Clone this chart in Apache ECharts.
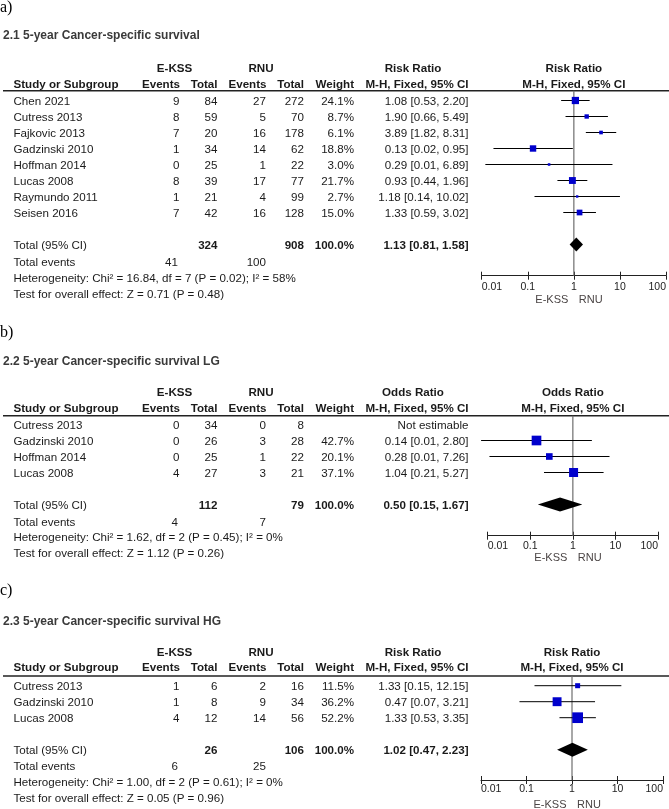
<!DOCTYPE html>
<html>
<head>
<meta charset="utf-8">
<script src="https://cdn.jsdelivr.net/npm/echarts@6/dist/echarts.min.js"></script>
<style>
html, body { margin: 0; padding: 0; background: #fff; }
#chart { width: 669px; height: 809px; }
</style>
</head>
<body>
<div id="chart"></div>
<script>
// ---- a) 2.1 5-year Cancer-specific survival (Risk Ratio)
var studiesA = ['Chen 2021', 'Cutress 2013', 'Fajkovic 2013', 'Gadzinski 2010', 'Hoffman 2014', 'Lucas 2008', 'Raymundo 2011', 'Seisen 2016'];
var ekssEventsA = [9, 8, 7, 1, 0, 8, 1, 7];
var ekssTotalA = [84, 59, 20, 34, 25, 39, 21, 42];
var rnuEventsA = [27, 5, 16, 14, 1, 17, 4, 16];
var rnuTotalA = [272, 70, 178, 62, 22, 77, 99, 128];
var weightA = [24.1, 8.7, 6.1, 18.8, 3.0, 21.7, 2.7, 15.0];
var estA = [1.08, 1.90, 3.89, 0.13, 0.29, 0.93, 1.18, 1.33];
var lowA = [0.53, 0.66, 1.82, 0.018, 0.012, 0.44, 0.14, 0.59];
var highA = [2.20, 5.49, 8.31, 0.95, 6.89, 1.96, 10.02, 3.02];
var totalA = [1.13, 0.81, 1.58];
var hetA = 'Heterogeneity: Chi² = 16.84, df = 7 (P = 0.02); I² = 58%';
var testA = 'Test for overall effect: Z = 0.71 (P = 0.48)';

// ---- b) 2.2 5-year Cancer-specific survival LG (Odds Ratio)
var studiesB = ['Cutress 2013', 'Gadzinski 2010', 'Hoffman 2014', 'Lucas 2008'];
var ekssEventsB = [0, 0, 0, 4];
var ekssTotalB = [34, 26, 25, 27];
var rnuEventsB = [0, 3, 1, 3];
var rnuTotalB = [8, 28, 22, 21];
var weightB = [null, 42.7, 20.1, 37.1];
var estB = [null, 0.14, 0.28, 1.04];
var lowB = [null, 0.007, 0.011, 0.21];
var highB = [null, 2.80, 7.26, 5.27];
var totalB = [0.50, 0.15, 1.67];
var hetB = 'Heterogeneity: Chi² = 1.62, df = 2 (P = 0.45); I² = 0%';
var testB = 'Test for overall effect: Z = 1.12 (P = 0.26)';

// ---- c) 2.3 5-year Cancer-specific survival HG (Risk Ratio)
var studiesC = ['Cutress 2013', 'Gadzinski 2010', 'Lucas 2008'];
var ekssEventsC = [1, 1, 4];
var ekssTotalC = [6, 8, 12];
var rnuEventsC = [2, 9, 14];
var rnuTotalC = [16, 34, 56];
var weightC = [11.5, 36.2, 52.2];
var estC = [1.33, 0.47, 1.33];
var lowC = [0.15, 0.07, 0.53];
var highC = [12.15, 3.21, 3.35];
var totalC = [1.02, 0.47, 2.23];
var hetC = 'Heterogeneity: Chi² = 1.00, df = 2 (P = 0.61); I² = 0%';
var testC = 'Test for overall effect: Z = 0.05 (P = 0.96)';

var tickLabels = ['0.01', '0.1', '1', '10', '100'];

var FONT = '"Liberation Sans", Arial, Helvetica, sans-serif';
var FS = 11.6;
var ROW = 16;

// layout of each panel (pixel positions)
var panels = [
	{tag: 'a)', title: '2.1 5-year Cancer-specific survival', measure: 'Risk Ratio',
	 tagY: 8, titleY: 36, h1Y: 69, h2Y: 85, lineY: 90.7, row0: 100.5, axisY: 275.7, totalIdx: 9,
	 eventsY: 263, hetY: 278.5, testY: 295, sideY: 300, left: 481.7, right: 666, labMargin: 6,
	 studies: studiesA, eEv: ekssEventsA, eTot: ekssTotalA, rEv: rnuEventsA, rTot: rnuTotalA,
	 w: weightA, est: estA, lo: lowA, hi: highA, tot: totalA, het: hetA, test: testA},
	{tag: 'b)', title: '2.2 5-year Cancer-specific survival LG', measure: 'Odds Ratio',
	 tagY: 333, titleY: 361.7, h1Y: 392.7, h2Y: 408.3, lineY: 415.7, row0: 424.5, axisY: 535.7, totalIdx: 5,
	 eventsY: 522.7, hetY: 537.7, testY: 553.3, sideY: 558, left: 487.7, right: 658, labMargin: 5,
	 studies: studiesB, eEv: ekssEventsB, eTot: ekssTotalB, rEv: rnuEventsB, rTot: rnuTotalB,
	 w: weightB, est: estB, lo: lowB, hi: highB, tot: totalB, het: hetB, test: testB},
	{tag: 'c)', title: '2.3 5-year Cancer-specific survival HG', measure: 'Risk Ratio',
	 tagY: 591, titleY: 622, h1Y: 653, h2Y: 668, lineY: 676, row0: 685.7, axisY: 780, totalIdx: 4,
	 eventsY: 767, hetY: 783, testY: 798.5, sideY: 805, left: 481, right: 663, labMargin: 4,
	 studies: studiesC, eEv: ekssEventsC, eTot: ekssTotalC, rEv: rnuEventsC, rTot: rnuTotalC,
	 w: weightC, est: estC, lo: lowC, hi: highC, tot: totalC, het: hetC, test: testC}
];

function txt(x, y, s, align, bold, size, color, family) {
	return {
		type: 'text', x: x, y: y, silent: true,
		style: {
			text: s,
			font: (bold ? 'bold ' : '') + (size || FS) + 'px ' + (family || FONT),
			fill: color || '#1a1a1a',
			textAlign: align || 'left', align: align || 'left',
			textVerticalAlign: 'middle', verticalAlign: 'middle'
		}
	};
}

function ci(e, l, h) {
	return e.toFixed(2) + ' [' + l.toFixed(2) + ', ' + h.toFixed(2) + ']';
}

function sum(arr) {
	return arr.reduce(function (a, b) { return a + b; }, 0);
}

var graphics = [];
var grids = [], xAxes = [], yAxes = [], series = [];

panels.forEach(function (P, p) {
	var xOne = P.left + (P.right - P.left) / 2;
	var g = graphics;
	g.push(txt(0, P.tagY, P.tag, 'left', false, 16, '#000', '"Liberation Serif", "Times New Roman", serif'));
	g.push(txt(3, P.titleY, P.title, 'left', true, 12, '#3a3a3a'));
	// headers
	g.push(txt(174.5, P.h1Y, 'E-KSS', 'center', true));
	g.push(txt(261, P.h1Y, 'RNU', 'center', true));
	g.push(txt(413, P.h1Y, P.measure, 'center', true));
	g.push(txt(xOne, P.h1Y, P.measure, 'center', true));
	g.push(txt(13.5, P.h2Y, 'Study or Subgroup', 'left', true));
	g.push(txt(180, P.h2Y, 'Events', 'right', true));
	g.push(txt(217.5, P.h2Y, 'Total', 'right', true));
	g.push(txt(266.5, P.h2Y, 'Events', 'right', true));
	g.push(txt(304, P.h2Y, 'Total', 'right', true));
	g.push(txt(354, P.h2Y, 'Weight', 'right', true));
	g.push(txt(468.5, P.h2Y, 'M-H, Fixed, 95% CI', 'right', true));
	g.push(txt(xOne, P.h2Y, 'M-H, Fixed, 95% CI', 'center', true));
	g.push({type: 'line', silent: true, shape: {x1: 3, y1: P.lineY, x2: 669, y2: P.lineY},
		style: {stroke: '#222', lineWidth: 1.5}});

	// study rows
	var studyData = [];
	P.studies.forEach(function (name, i) {
		var y = P.row0 + i * ROW + 1.5;
		g.push(txt(13.5, y, name, 'left'));
		g.push(txt(179.5, y, String(P.eEv[i]), 'right'));
		g.push(txt(217.5, y, String(P.eTot[i]), 'right'));
		g.push(txt(266, y, String(P.rEv[i]), 'right'));
		g.push(txt(304, y, String(P.rTot[i]), 'right'));
		if (P.est[i] == null) {
			g.push(txt(468.5, y, 'Not estimable', 'right'));
		} else {
			g.push(txt(354, y, P.w[i].toFixed(1) + '%', 'right'));
			g.push(txt(468.5, y, ci(P.est[i], P.lo[i], P.hi[i]), 'right'));
			studyData.push([P.est[i], P.lo[i], P.hi[i], i, P.w[i]]);
		}
	});

	// total rows
	var ty = P.row0 + P.totalIdx * ROW + 1.5;
	g.push(txt(13.5, ty, 'Total (95% CI)', 'left'));
	g.push(txt(217.5, ty, String(sum(P.eTot)), 'right', true));
	g.push(txt(304, ty, String(sum(P.rTot)), 'right', true));
	g.push(txt(354, ty, '100.0%', 'right', true));
	g.push(txt(468.5, ty, ci(P.tot[0], P.tot[1], P.tot[2]), 'right', true));
	g.push(txt(13.5, P.eventsY, 'Total events', 'left'));
	g.push(txt(178, P.eventsY, String(sum(P.eEv)), 'right'));
	g.push(txt(266, P.eventsY, String(sum(P.rEv)), 'right'));
	g.push(txt(13.5, P.hetY, P.het, 'left'));
	g.push(txt(13.5, P.testY, P.test, 'left'));
	g.push(txt(xOne - 5.5, P.sideY, 'E-KSS', 'right', false, 11, '#4a4444'));
	g.push(txt(xOne + 5, P.sideY, 'RNU', 'left', false, 11, '#4a4444'));

	// plot area
	var yMin = (P.lineY - P.row0) / ROW;
	var yMax = (P.axisY - P.row0) / ROW;
	grids.push({left: P.left, width: P.right - P.left, top: P.lineY, height: P.axisY - P.lineY, containLabel: false});
	xAxes.push({
		type: 'log', logBase: 10, gridIndex: p, min: 0.01, max: 100, position: 'bottom',
		axisLine: {show: true, onZero: false, lineStyle: {color: '#222', width: 1}},
		axisTick: {show: true, length: 4, lineStyle: {color: '#222', width: 1}},
		minorTick: {show: false},
		splitLine: {show: false},
		axisLabel: {
			fontFamily: FONT, fontSize: 10.5, color: '#222', margin: P.labMargin,
			alignMinLabel: 'left', alignMaxLabel: 'right',
			formatter: function (v) { return tickLabels[Math.round(Math.log10(v)) + 2]; }
		}
	});
	xAxes.push({
		type: 'log', logBase: 10, gridIndex: p, min: 0.01, max: 100, position: 'bottom',
		axisLine: {show: false, onZero: false},
		axisTick: {show: true, inside: true, length: 4, lineStyle: {color: '#222', width: 1}},
		axisLabel: {show: false},
		splitLine: {show: false}
	});
	yAxes.push({type: 'value', gridIndex: p, inverse: true, min: yMin, max: yMax, show: false});

	// line of no effect
	series.push({
		type: 'line', xAxisIndex: 2 * p, yAxisIndex: p, silent: true, symbol: 'none', z: 1,
		lineStyle: {color: '#6e6e6e', width: 1.2},
		data: [[1, yMin], [1, yMax]]
	});
	// studies: CI whiskers + weighted squares
	series.push({
		type: 'custom', xAxisIndex: 2 * p, yAxisIndex: p, silent: true, z: 3,
		encode: {x: [0, 1, 2], y: 3},
		data: studyData,
		renderItem: function (params, api) {
			var row = api.value(3);
			var c = api.coord([api.value(0), row]);
			var l = api.coord([api.value(1), row]);
			var h = api.coord([api.value(2), row]);
			var s = 1.48 * Math.sqrt(api.value(4));
			return {
				type: 'group',
				children: [
					{type: 'line', shape: {x1: l[0], y1: c[1], x2: h[0], y2: c[1]}, style: {stroke: '#000', lineWidth: 1}},
					{type: 'rect', shape: {x: c[0] - s / 2, y: c[1] - s / 2, width: s, height: s}, style: {fill: '#0000CC'}}
				]
			};
		}
	});
	// pooled diamond
	series.push({
		type: 'custom', xAxisIndex: 2 * p, yAxisIndex: p, silent: true, z: 3,
		encode: {x: [0, 1, 2], y: 3},
		data: [[P.tot[0], P.tot[1], P.tot[2], P.totalIdx]],
		renderItem: function (params, api) {
			var row = api.value(3);
			var c = api.coord([api.value(0), row]);
			var l = api.coord([api.value(1), row]);
			var h = api.coord([api.value(2), row]);
			var d = 7;
			return {
				type: 'polygon',
				shape: {points: [[l[0], c[1]], [c[0], c[1] - d], [h[0], c[1]], [c[0], c[1] + d]]},
				style: {fill: '#000'}
			};
		}
	});
});

var chart = echarts.init(document.getElementById('chart'), null, {renderer: 'canvas'});
chart.setOption({
	backgroundColor: '#fff',
	animation: false,
	grid: grids,
	xAxis: xAxes,
	yAxis: yAxes,
	series: series,
	graphic: graphics
});
</script>
</body>
</html>
